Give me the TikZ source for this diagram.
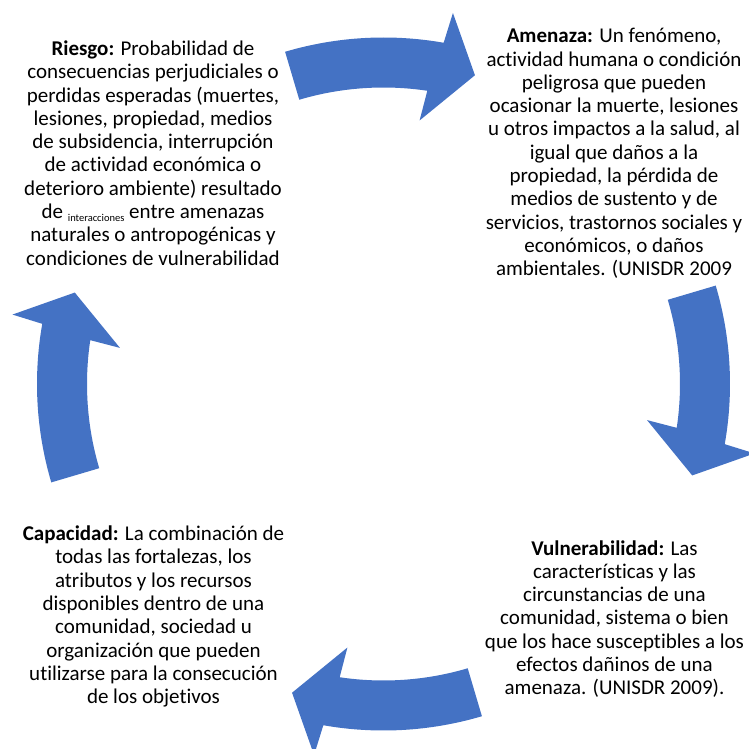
\documentclass[tikz,border=0pt]{standalone}
\usepackage{fontspec}
\setmainfont{Carlito}[Ligatures=NoCommon]
\usepackage{tikz}
\usetikzlibrary{positioning}
\definecolor{arrowblue}{HTML}{4472C4}
\definecolor{ink}{HTML}{000000}
\tikzset{
  deftext/.style={align=center,text=ink,inner sep=0pt,
                  font=\fontsize{21}{23.3}\selectfont},
  cyclearrow/.style={fill=arrowblue,draw=none}
}
\newcommand{\smallword}[1]{\raisebox{-3pt}{\fontsize{10.5}{10.5}\selectfont #1}}

\begin{document}
\begin{tikzpicture}[x=1pt,y=1pt]
  \useasboundingbox (-383.5pt,-365pt) rectangle (364.5pt,384pt);
  % four block arrows round the cycle
  \foreach \rot in {0,-90,-180,-270}{
    \fill[cyclearrow,rotate=\rot]
      (106.5:346.5pt) arc[start angle=106.5,end angle=80,radius=346.5pt]
      -- (79.4:377.5pt) -- (73.5:322pt) -- (82.2:266pt) -- (81.5:296.5pt)
      arc[start angle=81.5,end angle=106.5,radius=296.5pt] -- cycle;
  }
  \node[deftext] (riesgo) at (-230.5pt,231pt)
    {\textbf{Riesgo:} Probabilidad de\\
     consecuencias perjudiciales o\\
     perdidas esperadas (muertes,\\
     lesiones, propiedad, medios\\
     de subsidencia, interrupción\\
     de actividad económica o\\
     deterioro ambiente) resultado\\
     de \smallword{interacciones} entre amenazas\\
     naturales o antropogénicas y\\
     condiciones de vulnerabilidad};
  \node[deftext] (amenaza) at (230.5pt,230.5pt)
    {\textbf{Amenaza:} Un fenómeno,\\
     actividad humana o condición\\
     peligrosa que pueden\\
     ocasionar la muerte, lesiones\\
     u otros impactos a la salud, al\\
     igual que daños a la\\
     propiedad, la pérdida de\\
     medios de sustento y de\\
     servicios, trastornos sociales y\\
     económicos, o daños\\
     ambientales. (UNISDR 2009};
  \node[deftext] (vulner) at (231pt,-235pt)
    {\textbf{Vulnerabilidad:} Las\\
     características y las\\
     circunstancias de una\\
     comunidad, sistema o bien\\
     que los hace susceptibles a los\\
     efectos dañinos de una\\
     amenaza. (UNISDR 2009).};
  \node[deftext] (capac) at (-230pt,-232.5pt)
    {\textbf{Capacidad:} La combinación de\\
     todas las fortalezas, los\\
     atributos y los recursos\\
     disponibles dentro de una\\
     comunidad, sociedad u\\
     organización que pueden\\
     utilizarse para la consecución\\
     de los objetivos};
\end{tikzpicture}
\end{document}
